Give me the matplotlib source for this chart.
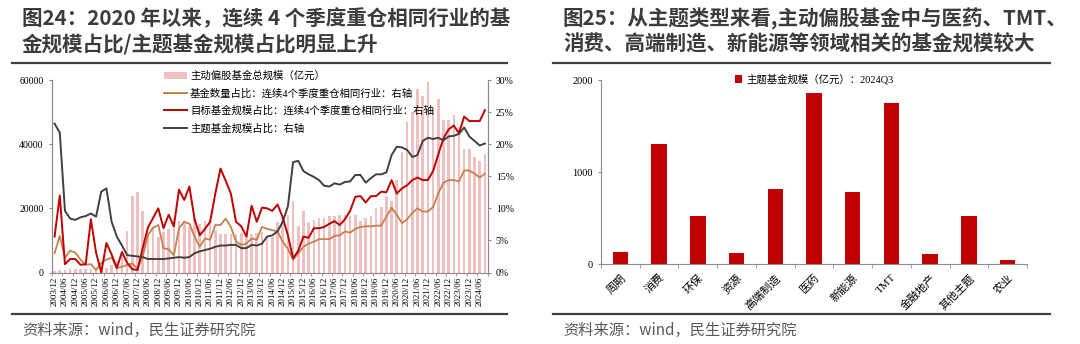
import numpy as np
import matplotlib
matplotlib.use("Agg")
import matplotlib.pyplot as plt
from matplotlib.patches import Patch
from matplotlib.lines import Line2D
from matplotlib.ticker import FuncFormatter

plt.rcParams["font.family"] = ["Liberation Serif", "Noto Sans CJK SC"]

# ---------------- data: left chart (quarterly, 2003Q4 - 2024Q3) ----------------
quarters = [f"{y}/{m:02d}" for y in range(2003, 2025) for m in (3, 6, 9, 12)]
quarters = quarters[quarters.index("2003/12"):quarters.index("2024/09") + 1]

fund_total = [
    600, 700, 900, 1000, 1200, 1000, 1100, 1100, 1000, 1300,
    1500, 2200, 3500, 5500, 13000, 23900, 25000, 19200, 12700, 14300,
    11200, 12700, 13600, 17100, 16200, 15900, 14300, 16800, 15200, 15900,
    15900, 13200, 12000, 12000, 12000, 12000, 12300, 12000, 12000, 12300,
    12600, 11200, 11000, 15800, 16900, 18000, 22300, 14500, 19200, 15800,
    16500, 17100, 17100, 17600, 17600, 18000, 18000, 17600, 17900, 16200,
    17000, 17600, 20000, 20400, 23900, 22300, 28800, 37500, 46800, 50100,
    57200, 55100, 59300, 50900, 54100, 47500, 47500, 49100, 45500, 38500,
    38500, 36100, 34800, 36800,
]
count_share = [
    3.0, 5.7, 2.3, 3.4, 3.1, 2.0, 1.2, 1.3, 0.4, 1.5,
    2.0, 2.3, 0.7, 0.9, 1.2, 1.4, 0.6, 2.5, 5.8, 7.0,
    7.4, 3.8, 3.6, 2.7, 6.9, 7.9, 7.6, 5.6, 4.0, 5.3,
    5.1, 7.4, 7.4, 8.4, 7.1, 4.8, 4.3, 4.5, 5.3, 5.1,
    7.1, 6.8, 6.6, 6.4, 4.8, 3.7, 2.0, 3.0, 4.0, 4.5,
    4.8, 5.2, 5.2, 5.2, 5.7, 5.8, 6.4, 6.2, 6.8, 7.1,
    7.2, 7.2, 7.3, 7.3, 8.7, 10.1, 9.0, 7.7, 8.3, 9.3,
    10.0, 9.5, 9.5, 10.2, 12.3, 14.0, 14.4, 14.4, 14.2, 15.9,
    15.9, 15.4, 14.8, 15.4,
]
target_share = [
    5.6, 12.0, 1.3, 2.1, 2.1, 1.2, 1.3, 8.3, 3.1, 0.0,
    4.6, 2.8, 0.7, 3.2, 1.5, 0.5, 0.4, 3.8, 7.0, 8.5,
    10.0, 6.9, 9.0, 7.2, 12.9, 11.3, 13.4, 8.3, 5.8, 6.8,
    7.9, 12.3, 16.2, 14.3, 12.3, 7.9, 7.2, 5.6, 10.4, 7.9,
    10.1, 10.0, 9.6, 10.6, 8.6, 5.8, 2.2, 3.4, 5.6, 5.4,
    6.9, 6.9, 7.1, 7.6, 8.0, 7.4, 8.3, 9.6, 11.8, 11.9,
    10.9, 11.9, 11.9, 12.6, 12.5, 14.4, 12.3, 13.1, 13.6, 14.4,
    14.8, 14.4, 14.4, 15.8, 18.4, 20.9, 22.3, 22.9, 21.7, 24.3,
    23.6, 23.6, 23.6, 25.3,
]
theme_share = [
    23.2, 21.8, 9.6, 8.4, 8.2, 8.6, 8.8, 9.2, 8.7, 12.6,
    13.1, 7.9, 5.6, 4.2, 2.7, 2.6, 2.5, 2.4, 2.1, 2.1,
    2.1, 2.1, 2.2, 2.3, 2.4, 2.3, 2.4, 3.0, 3.3, 3.5,
    3.7, 4.0, 4.2, 4.2, 4.3, 4.3, 3.8, 3.8, 4.3, 4.2,
    4.5, 5.6, 5.8, 6.4, 7.9, 10.3, 17.2, 17.4, 15.8, 15.3,
    14.9, 14.4, 13.5, 13.4, 13.9, 13.7, 14.1, 14.2, 15.2, 15.2,
    14.0, 14.7, 15.3, 15.3, 15.6, 18.3, 19.6, 19.5, 19.1, 18.0,
    18.3, 20.5, 21.0, 20.8, 21.0, 20.6, 21.2, 21.3, 21.6, 22.6,
    21.2, 20.5, 19.8, 20.1,
]
left_labels = [
    "主动偏股基金总规模（亿元）",
    "基金数量占比：连续4个季度重仓相同行业：右轴",
    "目标基金规模占比：连续4个季度重仓相同行业：右轴",
    "主题基金规模占比：右轴",
]

# ---------------- data: right chart ----------------
themes = ["周期", "消费", "环保", "资源", "高端制造", "医药", "新能源", "TMT",
          "金融地产", "其他主题", "农业"]
theme_size = [127, 1304, 522, 116, 819, 1862, 786, 1754, 105, 522, 43]

title_left = ["图24：2020 年以来，连续 4 个季度重仓相同行业的基",
              "金规模占比/主题基金规模占比明显上升"]
title_right = ["图25：从主题类型来看,主动偏股基金中与医药、TMT、",
               "消费、高端制造、新能源等领域相关的基金规模较大"]
source = "资料来源：wind，民生证券研究院"

PINK = "#F0C0C0"
ORANGE = "#C8804A"
RED = "#C00000"
GREY = "#404040"
AXC = "#8C8C8C"
CJK = ["Noto Sans CJK SC", "DejaVu Sans"]

fig = plt.figure(figsize=(10.8, 3.44), dpi=100)

# titles, rules, sources
for x0, x1, tx, lines in [(12, 507, 22, title_left), (553, 1050, 563, title_right)]:
    fig.text(tx / 1080, 1 - 19 / 344, lines[0], family=CJK, fontsize=14.8,
             fontweight="bold", color="#3C3C3C", va="center")
    fig.text(tx / 1080, 1 - 44 / 344, lines[1], family=CJK, fontsize=14.8,
             fontweight="bold", color="#3C3C3C", va="center")
    fig.add_artist(Line2D([x0 / 1080, x1 / 1080], [1 - 63 / 344] * 2,
                          color="#404040", lw=1.6))
    fig.add_artist(Line2D([x0 / 1080, x1 / 1080], [1 - 314 / 344] * 2,
                          color="#404040", lw=1.6))
    fig.text(tx / 1080, 1 - 330 / 344, source, family=CJK, fontsize=11,
             color="#595959", va="center")

# ---------------- left chart ----------------
ax = fig.add_axes([52 / 1080, 1 - 272.5 / 344, 435.5 / 1080, 192.5 / 344])
x = np.arange(len(quarters))
ax.bar(x, fund_total, width=0.5, color=PINK)
ax.set_xlim(-0.5, len(quarters) - 0.5)
ax.set_ylim(0, 60000)
ax.set_yticks([0, 20000, 40000, 60000])
ax.set_xticks(x[::2])
ax.set_xticklabels(quarters[::2], rotation=90, fontsize=6.5)
ax.set_xticks(np.arange(-0.5, len(quarters), 2), minor=True)
ax.tick_params(axis="x", which="major", length=0, pad=3)
ax.tick_params(axis="x", which="minor", length=2.5, color=AXC)
ax.tick_params(axis="y", labelsize=7, length=2.5, color=AXC)

ax2 = ax.twinx()
ax2.plot(x, count_share, color=ORANGE, lw=1.3)
ax2.plot(x, target_share, color=RED, lw=1.4)
ax2.plot(x, theme_share, color=GREY, lw=1.4)
ax2.set_ylim(0, 30)
ax2.set_yticks(np.arange(0, 31, 5))
ax2.yaxis.set_major_formatter(FuncFormatter(lambda v, p: f"{v:.0f}%"))
ax2.tick_params(axis="y", labelsize=7, length=2.5, color=AXC)

for a in (ax, ax2):
    a.spines["top"].set_visible(False)
    for s in ("left", "right", "bottom"):
        a.spines[s].set_color(AXC)
        a.spines[s].set_linewidth(0.8)

handles = [Patch(facecolor=PINK, edgecolor="none"),
           Line2D([], [], color=ORANGE, lw=1.4),
           Line2D([], [], color=RED, lw=1.4),
           Line2D([], [], color=GREY, lw=1.4)]
ax2.legend(handles, left_labels, loc="upper left", bbox_to_anchor=(0.245, 1.075),
           frameon=False, fontsize=7.5, handlelength=2.2, handleheight=0.75,
           handletextpad=0.3, labelspacing=0.7, borderpad=0)

# ---------------- right chart ----------------
bx = fig.add_axes([601 / 1080, 1 - 264 / 344, 426 / 1080, 184 / 344])
xt = np.arange(len(themes))
bx.bar(xt, theme_size, width=0.4, color=RED, label="主题基金规模（亿元）：2024Q3")
bx.set_xlim(-0.5, len(themes) - 0.5)
bx.set_ylim(0, 2000)
bx.set_yticks([0, 1000, 2000])
bx.set_xticks(xt)
bx.set_xticklabels(themes, rotation=45, ha="right", rotation_mode="anchor",
                   fontsize=8)
bx.set_xticks(np.arange(-0.5, len(themes), 1), minor=True)
bx.tick_params(axis="x", which="major", length=0, pad=6)
bx.tick_params(axis="x", which="minor", length=3, color=AXC)
bx.tick_params(axis="y", labelsize=7.5, length=2.5, color=AXC)
for s in ("top", "right"):
    bx.spines[s].set_visible(False)
for s in ("left", "bottom"):
    bx.spines[s].set_color(AXC)
    bx.spines[s].set_linewidth(0.8)
bx.legend(loc="upper center", bbox_to_anchor=(0.5, 1.06), frameon=False,
          fontsize=7.5, handlelength=0.7, handleheight=0.7, handletextpad=0.4,
          borderpad=0)

fig.savefig("out.png", dpi=100)
